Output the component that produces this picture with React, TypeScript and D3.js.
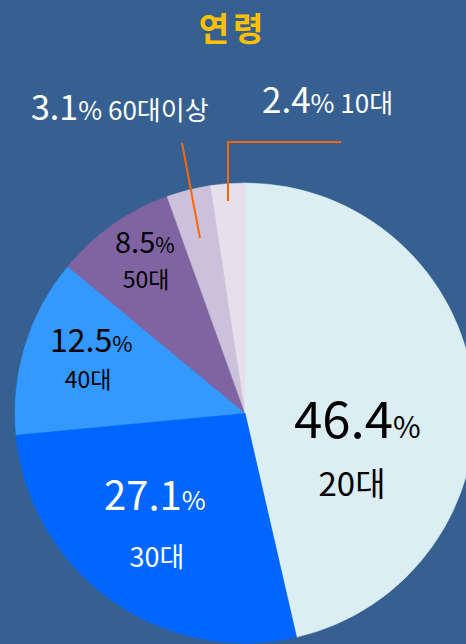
import React, { useEffect, useRef } from 'react';
import * as d3 from 'd3';

const categories = ['20대', '30대', '40대', '50대', '60대이상', '10대'];
const values = [46.4, 27.1, 12.5, 8.5, 3.1, 2.4];
const colors = ['#daeef3', '#0066ff', '#3399ff', '#8064a2', '#ccc1da', '#e5e0ec'];

const width = 466;
const height = 644;
const font = '"Noto Sans CJK KR", "Noto Sans", sans-serif';

const App = () => {
    const svgRef = useRef<SVGSVGElement>(null);

    useEffect(() => {
        document.body.style.margin = '0';
        const svg = d3.select(svgRef.current);
        svg.selectAll('*').remove();

        svg.append('rect').attr('width', width).attr('height', height).attr('fill', '#366092');

        const cx = 245;
        const cy = 413;
        const r = 230;

        const data = categories.map((c, i) => ({ cat: c, value: values[i], color: colors[i] }));
        const pie = d3.pie<any>().value(d => d.value).sort(null);
        const arc = d3.arc<any>().innerRadius(0).outerRadius(r);

        const g = svg.append('g').attr('transform', `translate(${cx},${cy})`);
        g.selectAll('path')
            .data(pie(data))
            .enter()
            .append('path')
            .attr('d', arc)
            .attr('fill', d => d.data.color)
            .attr('stroke', d => d.data.color)
            .attr('stroke-width', 0.5);

        // title
        svg.append('text')
            .attr('x', 233).attr('y', 41)
            .attr('text-anchor', 'middle')
            .attr('font-family', font)
            .attr('font-weight', 'bold')
            .attr('font-size', 33)
            .attr('fill', '#ffc000')
            .attr('letter-spacing', 4)
            .text('연령');

        // leader lines
        svg.append('polyline')
            .attr('points', '182,143 200,238')
            .attr('fill', 'none').attr('stroke', '#ff6600').attr('stroke-width', 2);
        svg.append('polyline')
            .attr('points', '341,142 228,142 228,201')
            .attr('fill', 'none').attr('stroke', '#ff6600').attr('stroke-width', 2);

        const labels = [
            { i: 0, x: 294, y: 438, big: 51, small: 30, cx: 352, ly: 496, catSize: 33, fill: '#000' },
            { i: 1, x: 104, y: 510, big: 40, small: 26, cx: 157, ly: 567, catSize: 27, fill: '#fff' },
            { i: 2, x: 50, y: 352, big: 32, small: 22, cx: 88, ly: 388, catSize: 23, fill: '#000' },
            { i: 3, x: 115, y: 253, big: 29, small: 21, cx: 146, ly: 288, catSize: 23, fill: '#000' },
        ];
        labels.forEach(l => {
            const t = svg.append('text')
                .attr('x', l.x).attr('y', l.y)
                .attr('font-family', font)
                .attr('fill', l.fill);
            t.append('tspan').attr('font-size', l.big).text(values[l.i].toFixed(1));
            t.append('tspan').attr('font-size', l.small).text('%');
            svg.append('text')
                .attr('x', l.cx).attr('y', l.ly)
                .attr('text-anchor', 'middle')
                .attr('font-family', font)
                .attr('font-size', l.catSize)
                .attr('fill', l.fill)
                .text(categories[l.i]);
        });

        const outside = [
            { i: 4, x: 31, y: 120, big: 34, small: 26 },
            { i: 5, x: 262, y: 113, big: 35, small: 26 },
        ];
        outside.forEach(l => {
            const t = svg.append('text')
                .attr('x', l.x).attr('y', l.y)
                .attr('font-family', font)
                .attr('fill', '#fff');
            t.append('tspan').attr('font-size', l.big).text(values[l.i].toFixed(1));
            t.append('tspan').attr('font-size', l.small).text('% ' + categories[l.i]);
        });
    }, []);

    return <svg ref={svgRef} width={width} height={height} style={{ display: 'block' }}></svg>;
};

export default App;
